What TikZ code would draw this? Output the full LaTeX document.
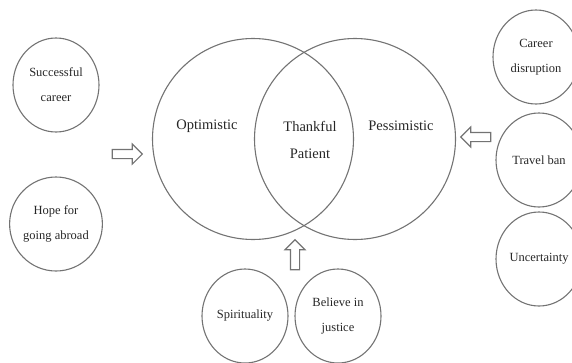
\documentclass[tikz,border=0pt]{standalone}
\usepackage{fontspec}
\setmainfont{Liberation Serif}
\usetikzlibrary{positioning,shapes.geometric,shapes.arrows}
\tikzset{
	every picture/.style={x=1pt, y=-1pt, line width=1.1pt},
	bigcircle/.style={circle, draw=black!55, minimum size=201pt, inner sep=0},
	biglabel/.style={align=center, text=black!85, font=\fontsize{14.5}{27}\selectfont},
	factor/.style={ellipse, draw=black!55, minimum width=86pt, minimum height=94pt, inner sep=0, align=center, text=black!85, font=\fontsize{12.5}{25}\selectfont},
	hollowarrow/.style={single arrow, draw=black!55, inner sep=4pt, minimum width=19pt, minimum height=30pt, single arrow head extend=5.5pt},
}
\begin{document}
\begin{tikzpicture}
	\useasboundingbox (0,0) rectangle (572,362);
	% the two attitudes
	\node[bigcircle] (optimistic) at (253,139) {};
	\node[bigcircle] (pessimistic) at (355,139) {};
	\node[biglabel] (optlabel) at (207,126) {Optimistic};
	\node[biglabel] (pesslabel) at (401,126) {Pessimistic};
	\node[biglabel] (thankful) at (310,140) {Thankful\\Patient};

	% left factors
	\node[factor] (career) at (56,85) {Successful\\career};
	\node[factor] (abroad) at (56,224) {Hope for\\going abroad};
	\node[hollowarrow] (leftarrow) at (125,154) {};

	% right factors
	\node[factor] (disruption) at (536,57) {Career\\disruption};
	\node[factor] (travelban) at (539,160) {Travel ban};
	\node[factor] (uncertainty) at (539,259) {Uncertainty};
	\node[hollowarrow, shape border rotate=180] (rightarrow) at (478,137) {};

	% bottom factors
	\node[factor] (spirit) at (245,316) {Spirituality};
	\node[factor] (justice) at (338,316) {Believe in\\justice};
	\node[hollowarrow, shape border rotate=90] (uparrow) at (295,257) {};
\end{tikzpicture}
\end{document}
